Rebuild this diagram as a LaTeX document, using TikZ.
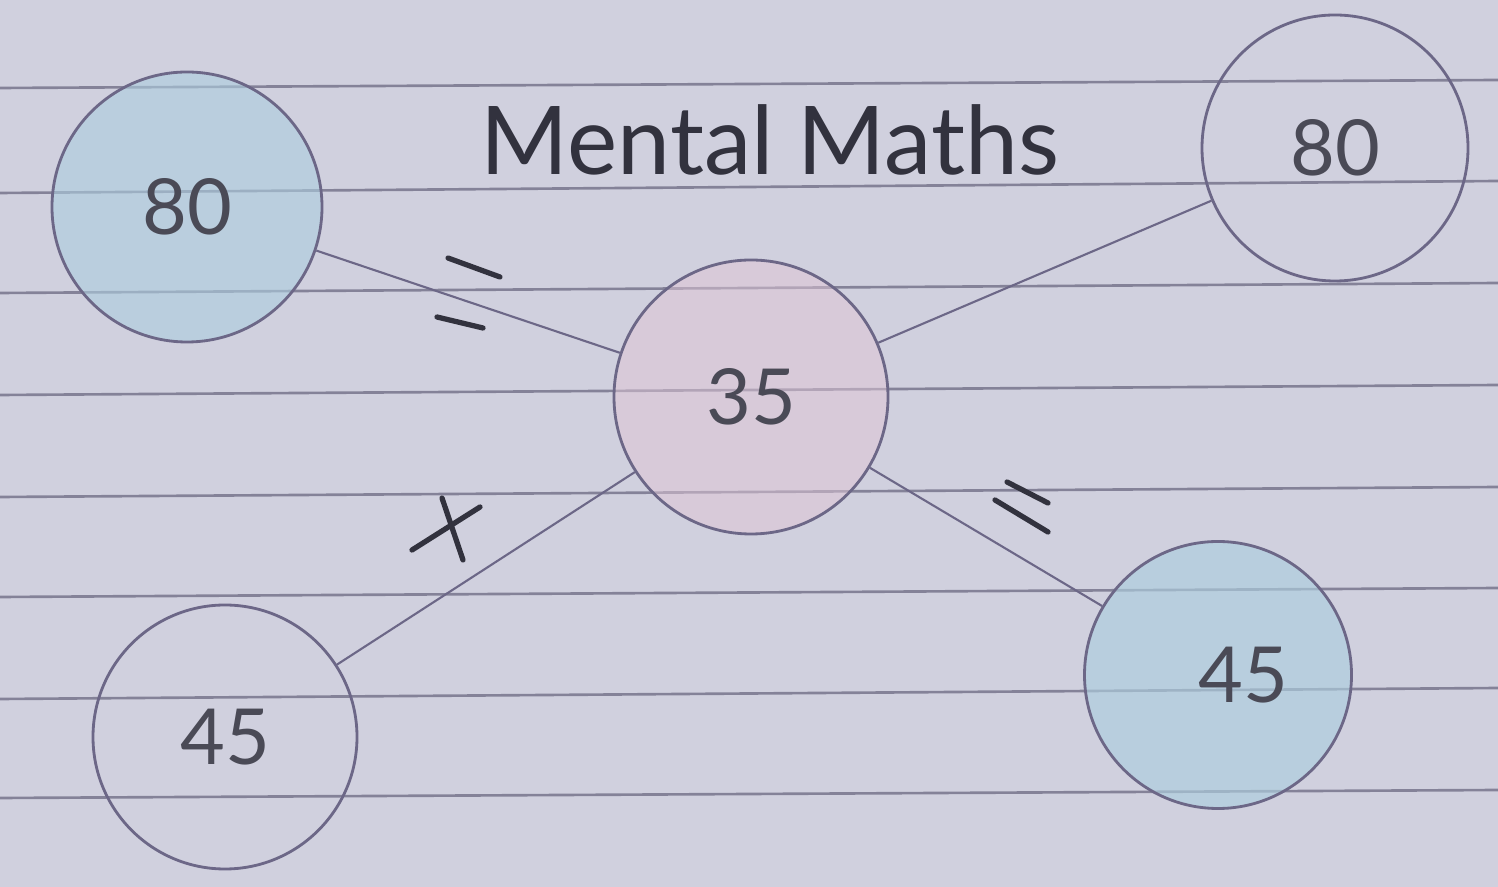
\documentclass[tikz,border=0pt]{standalone}
\usepackage{fontspec}
\setmainfont{Lato}
\definecolor{paper}{RGB}{208,208,222}
\definecolor{ruling}{RGB}{132,130,152}
\definecolor{pencil}{RGB}{108,103,135}
\definecolor{ink}{RGB}{50,50,62}
\definecolor{bluewash}{RGB}{172,206,222}
\definecolor{pinkwash}{RGB}{224,198,214}
\tikzset{
  rule/.style={ruling, line width=0.75pt},
  numcircle/.style={circle, draw=pencil, line width=0.8pt, minimum size=2.7cm, inner sep=0pt,
    text=ink!85!paper, font=\fontsize{22}{24}\selectfont},
  link/.style={pencil, line width=0.6pt},
  pen/.style={ink, line width=1.5pt, line cap=round}
}
\begin{document}
\begin{tikzpicture}
  \useasboundingbox (0,0) rectangle (14.98,-8.87);
  \fill[paper] (0,0) rectangle (14.98,-8.87);
  % Ruled paper
  \foreach \yl/\yr in {0.88/0.80, 1.93/1.81, 2.93/2.83, 3.95/3.85, 4.97/4.87, 5.97/5.88, 6.99/6.88, 7.98/7.90}
    \draw[rule] (0,-\yl) -- (14.98,-\yr);
  % Number circles
  \node[numcircle, fill=bluewash, fill opacity=0.6, text opacity=1] (topleft) at (1.87,-2.07) {80};
  \node[numcircle, minimum size=2.66cm] (topright) at (13.35,-1.48) {80};
  \node[numcircle, fill=pinkwash, fill opacity=0.5, text opacity=1, minimum size=2.74cm] (centre) at (7.51,-3.97) {35};
  \node[numcircle, minimum size=2.64cm] (bottomleft) at (2.25,-7.37) {45};
  \node[numcircle, fill=bluewash, fill opacity=0.65, text opacity=1, minimum size=2.67cm] (bottomright) at (12.18,-6.75) {\hspace{0.5cm}45};
  % Title
  \node[text=ink, font=\fontsize{27}{30}\selectfont] (title) at (7.70,-1.40) {Mental Maths};
  % Connectors
  \draw[link] (topleft) -- (centre);
  \draw[link] (centre) -- (topright);
  \draw[link] (centre) -- (bottomleft);
  \draw[link] (centre) -- (bottomright);
  % Operation marks
  \draw[pen] (4.48,-2.58) -- (5.00,-2.77);
  \draw[pen] (4.37,-3.17) -- (4.83,-3.28);
  \draw[pen] (4.42,-4.98) -- (4.63,-5.60);
  \draw[pen] (4.12,-5.50) -- (4.80,-5.07);
  \draw[pen] (10.07,-4.82) -- (10.48,-5.03);
  \draw[pen] (9.95,-5.00) -- (10.48,-5.32);
\end{tikzpicture}
\end{document}
